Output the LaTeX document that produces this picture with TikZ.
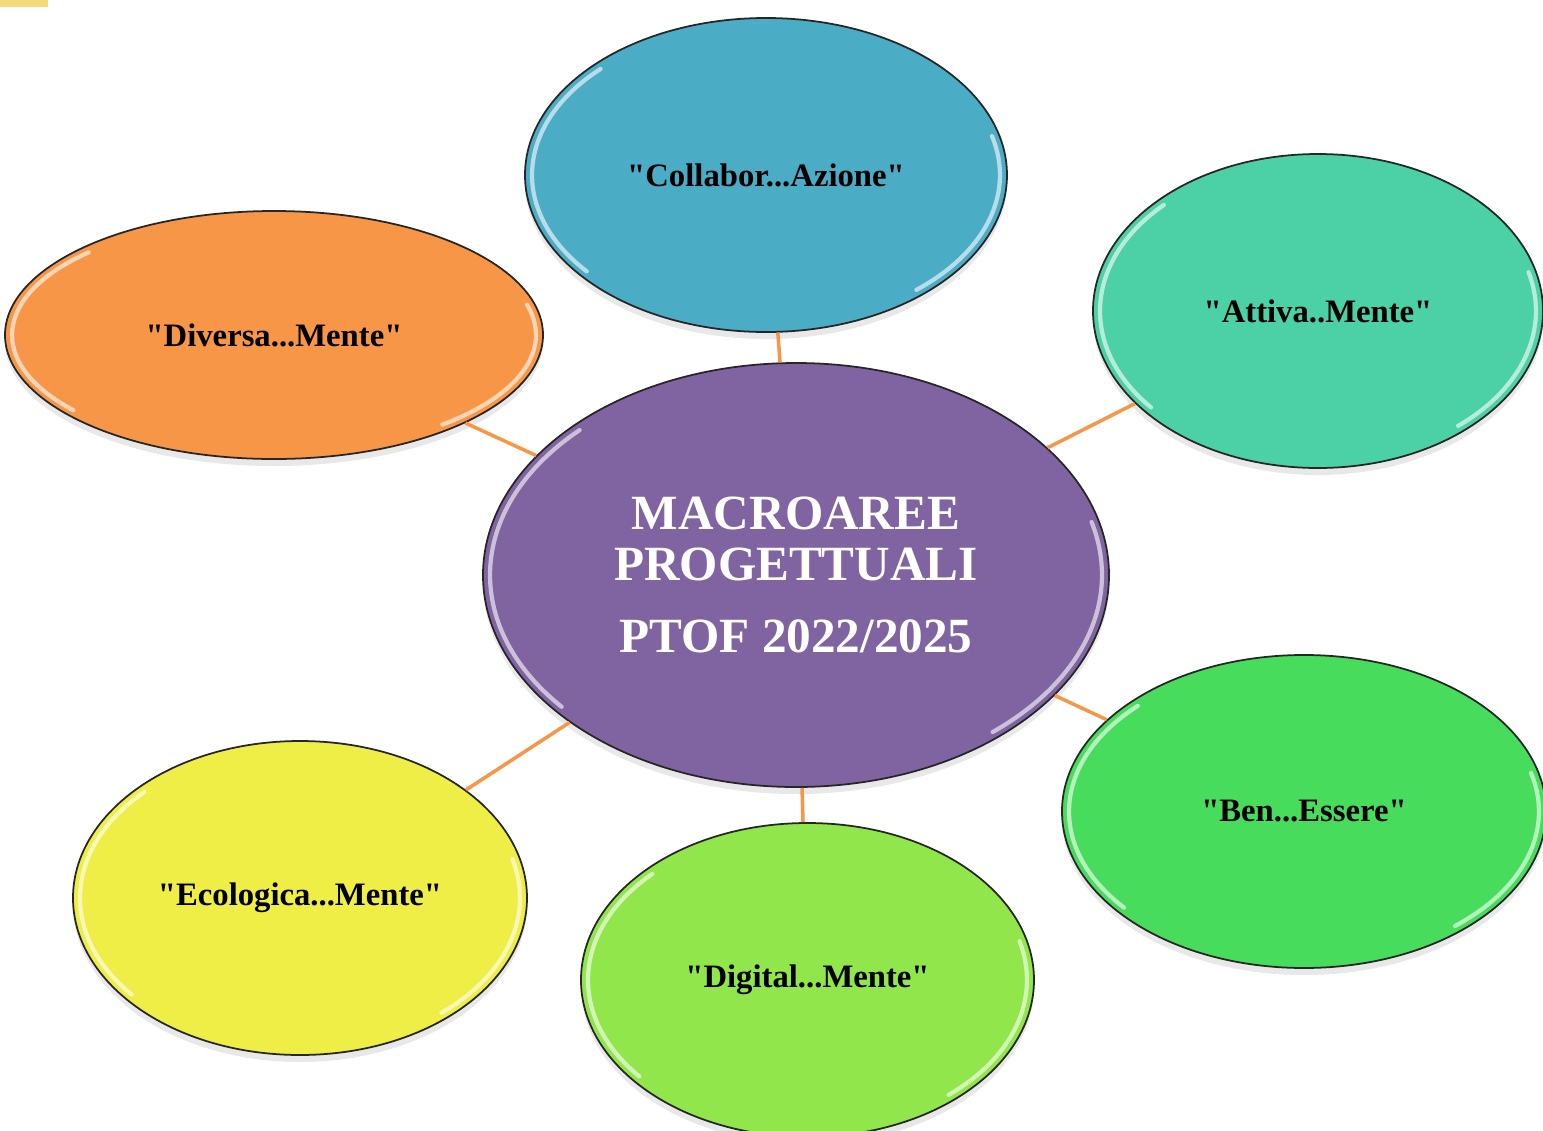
\documentclass[tikz,border=0pt]{standalone}
\usepackage{fontspec}
\setmainfont{Liberation Serif}
\usetikzlibrary{shapes.geometric,shadows,calc}
\definecolor{ptofpurple}{HTML}{8064A2}
\definecolor{collabblue}{HTML}{4BACC6}
\definecolor{attivateal}{HTML}{4BD1A5}
\definecolor{diversaorange}{HTML}{F79646}
\definecolor{benegreen}{HTML}{48DC5C}
\definecolor{digitallime}{HTML}{90E64A}
\definecolor{ecoyellow}{HTML}{EEEE46}
\definecolor{linkorange}{HTML}{F79646}
\definecolor{cornerbar}{HTML}{F5D976}
\newcommand{\qq}[1]{\textquotedbl#1\textquotedbl}
\begin{document}
\begin{tikzpicture}[scale=1,transform shape]
\tikzstyle{bubble}=[ellipse,anchor=center,draw=black!85,line width=0.5pt,text centered,inner sep=0pt,
  font=\bfseries\fontsize{9.3}{11}\selectfont,
  drop shadow={opacity=0.18,shadow xshift=0pt,shadow yshift=-2pt},
  path picture={
    \draw[white,line width=1.2pt,opacity=0.6,line cap=round]
      let \p1=($(path picture bounding box.north east)-(path picture bounding box.center)$) in
      ($(path picture bounding box.center)+(135:{\x1-2pt} and {\y1-2pt})$)
        arc[start angle=135,end angle=220,x radius={\x1-2pt},y radius={\y1-2pt}]
      ($(path picture bounding box.center)+(-50:{\x1-2pt} and {\y1-2pt})$)
        arc[start angle=-50,end angle=15,x radius={\x1-2pt},y radius={\y1-2pt}];
  }]
\tikzstyle{hub}=[bubble,fill=ptofpurple,text=white,align=center,font=\bfseries\fontsize{14}{14.5}\selectfont]
\tikzstyle{link}=[draw=linkorange,line width=1pt]

\useasboundingbox (0,0) rectangle (15.43,-11.31);
\fill [cornerbar] (0,0) rectangle (0.48,-0.07);

\node [hub,minimum width=6.26 cm,minimum height=4.24 cm] at (7.96,-5.75) (main) {MACROAREE\\PROGETTUALI\\[6pt]PTOF 2022/2025};

\node [bubble,fill=collabblue,minimum width=4.82 cm,minimum height=3.14 cm] at (7.66,-1.75) (collab) {\qq{Collabor...Azione}};
\node [bubble,fill=attivateal,minimum width=4.50 cm,minimum height=3.14 cm] at (13.18,-3.11) (attiva) {\qq{Attiva..Mente}};
\node [bubble,fill=diversaorange,minimum width=5.38 cm,minimum height=2.48 cm] at (2.74,-3.35) (diversa) {\qq{Diversa...Mente}};
\node [bubble,fill=benegreen,minimum width=4.84 cm,minimum height=3.13 cm] at (13.04,-8.115) (bene) {\qq{Ben...Essere}};
\node [bubble,fill=digitallime,minimum width=4.53 cm,minimum height=3.14 cm] at (8.075,-9.80) (digital) {\qq{Digital...Mente}};
\node [bubble,fill=ecoyellow,minimum width=4.54 cm,minimum height=3.14 cm] at (3.00,-8.98) (eco) {\qq{Ecologica...Mente}};

\path [link] (main) edge (collab);
\path [link] (main) edge (attiva);
\path [link] (main) edge (diversa);
\path [link] (main) edge (bene);
\path [link] (main) edge (digital);
\path [link] (main) edge (eco);
\end{tikzpicture}
\end{document}
